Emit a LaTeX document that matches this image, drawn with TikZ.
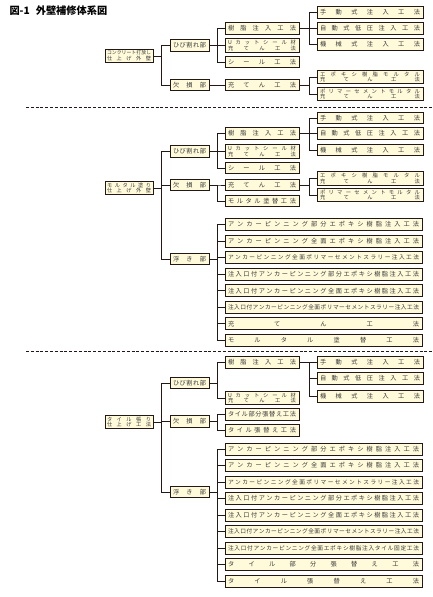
\documentclass[tikz,border=0pt]{standalone}
\usepackage{fontspec}
\newfontfamily\cjk{Noto Sans CJK JP}
\definecolor{boxfill}{HTML}{FFFADA}
\definecolor{ink}{HTML}{231815}
\definecolor{txt}{HTML}{383838}
\def\spreadaux#1{\ifx#1\relax\else#1\hfill\expandafter\spreadaux\fi}
\newcommand\sx[2]{\hbox to #1{\expandafter\spreadaux#2\relax\unskip}}
\tikzset{
  bx/.style={draw=ink, fill=boxfill, line width=1pt, inner xsep=3pt, inner ysep=0pt,
    minimum height=11.5pt, text=txt, font=\cjk\fontsize{6.2}{6.2}\selectfont},
  bxl/.style={bx, minimum height=12pt},
  bxs/.style={bxl, font=\cjk\fontsize{5.7}{5.7}\selectfont},
  bxt/.style={bx, align=center, minimum height=13.5pt, inner ysep=0.8pt,
    font=\cjk\fontsize{5.3}{5.8}\selectfont},
  rootbox/.style={bxt, inner xsep=2pt, font=\cjk\fontsize{5.2}{5.7}\selectfont},
  cn/.style={draw=ink, line width=0.9pt},
  sep/.style={draw=ink, line width=0.8pt, dash pattern=on 3pt off 1.8pt},
}
\begin{document}
\begin{tikzpicture}[x=1pt,y=-1pt]
\useasboundingbox (0,0) rectangle (433,597);
\node[anchor=west, text=black, font=\cjk\bfseries\fontsize{10.2}{10.2}\selectfont] (title) at (6,10.5) {図-1\hspace{6pt}外壁補修体系図};
\draw[sep] (26,107) -- (433,107);
\draw[sep] (26,351) -- (433,351);
% ---------- section 1
\node[rootbox] (R1) at (129,56) {{\fontsize{4.85}{5.7}\selectfont\sx{44pt}{コンクリート打放し}}\\\sx{44pt}{仕上げ外壁}};
\node[bx] (A1) at (189.5,45.5) {\sx{33pt}{ひび割れ部}};
\node[bx] (B1) at (189.5,85) {\sx{33pt}{欠損部}};
\node[bx] (A1a) at (262,28.5) {\sx{68pt}{樹脂注入工法}};
\node[bxt] (A1b) at (262,45.5) {\sx{68pt}{Uカットシール材}\\\sx{68pt}{充てん工法}};
\node[bx] (A1c) at (262,62) {\sx{68pt}{シール工法}};
\node[bx] (A1a1) at (370,12.5) {\sx{100pt}{手動式注入工法}};
\node[bx] (A1a2) at (370,28.5) {\sx{100pt}{自動式低圧注入工法}};
\node[bx] (A1a3) at (370,44.5) {\sx{100pt}{機械式注入工法}};
\node[bx] (B1a) at (262,85) {\sx{68pt}{充てん工法}};
\node[bxt] (B1a1) at (370,77) {\sx{100pt}{エポキシ樹脂モルタル}\\\sx{100pt}{充てん工法}};
\node[bxt] (B1a2) at (370,94) {\sx{100pt}{ポリマーセメントモルタル}\\\sx{100pt}{充てん工法}};
\foreach \c in {A1,B1} \draw[cn] (R1.east) -- ++(8,0) |- (\c.west);
\foreach \c in {A1a,A1b,A1c} \draw[cn] (A1.east) -- ++(8,0) |- (\c.west);
\foreach \c in {A1a1,A1a2,A1a3} \draw[cn] (A1a.east) -- ++(10,0) |- (\c.west);
\draw[cn] (B1.east) -- (B1a.west);
\foreach \c in {B1a1,B1a2} \draw[cn] (B1a.east) -- ++(10,0) |- (\c.west);
% ---------- section 2
\node[rootbox] (R2) at (129,188) {\sx{44pt}{モルタル塗り}\\\sx{44pt}{仕上げ外壁}};
\node[bx] (A2) at (189.5,151.5) {\sx{33pt}{ひび割れ部}};
\node[bx] (B2) at (189.5,185) {\sx{33pt}{欠損部}};
\node[bx] (C2) at (189.5,259) {\sx{33pt}{浮き部}};
\node[bx] (A2a) at (262,133.5) {\sx{68pt}{樹脂注入工法}};
\node[bxt] (A2b) at (262,151.5) {\sx{68pt}{Uカットシール材}\\\sx{68pt}{充てん工法}};
\node[bx] (A2c) at (262,168) {\sx{68pt}{シール工法}};
\node[bx] (A2a1) at (370,118) {\sx{100pt}{手動式注入工法}};
\node[bx] (A2a2) at (370,133.5) {\sx{100pt}{自動式低圧注入工法}};
\node[bx] (A2a3) at (370,150) {\sx{100pt}{機械式注入工法}};
\node[bx] (B2a) at (262,185) {\sx{68pt}{充てん工法}};
\node[bx] (B2b) at (262,201) {\sx{68pt}{モルタル塗替工法}};
\node[bxt] (B2a1) at (370,178.5) {\sx{100pt}{エポキシ樹脂モルタル}\\\sx{100pt}{充てん工法}};
\node[bxt] (B2a2) at (370,195) {\sx{100pt}{ポリマーセメントモルタル}\\\sx{100pt}{充てん工法}};
\foreach \y/\t/\s [count=\i] in {
  224.5/{アンカーピンニング部分エポキシ樹脂注入工法}/bxl,
  241.1/{アンカーピンニング全面エポキシ樹脂注入工法}/bxl,
  257.6/{アンカーピンニング全面ポリマーセメントスラリー注入工法}/bxs,
  274.2/{注入口付アンカーピンニング部分エポキシ樹脂注入工法}/bxl,
  290.8/{注入口付アンカーピンニング全面エポキシ樹脂注入工法}/bxl,
  307.4/{注入口付アンカーピンニング全面ポリマーセメントスラリー注入工法}/bxs,
  323.9/{充てん工法}/bxl,
  340.5/{モルタル塗替工法}/bxl}
  \node[\s] (C2c\i) at (323.5,\y) {\sx{191pt}{\t}};
\foreach \c in {A2,B2,C2} \draw[cn] (R2.east) -- ++(8,0) |- (\c.west);
\foreach \c in {A2a,A2b,A2c} \draw[cn] (A2.east) -- ++(8,0) |- (\c.west);
\foreach \c in {A2a1,A2a2,A2a3} \draw[cn] (A2a.east) -- ++(10,0) |- (\c.west);
\foreach \c in {B2a,B2b} \draw[cn] (B2.east) -- ++(8,0) |- (\c.west);
\foreach \c in {B2a1,B2a2} \draw[cn] (B2a.east) -- ++(10,0) |- (\c.west);
\foreach \i in {1,...,8} \draw[cn] (C2.east) -- ++(8,0) |- (C2c\i.west);
% ---------- section 3
\node[rootbox] (R3) at (129,422) {\sx{44pt}{タイル張り}\\\sx{44pt}{仕上げ工法}};
\node[bx] (A3) at (189.5,383) {\sx{33pt}{ひび割れ部}};
\node[bx] (B3) at (189.5,421.5) {\sx{33pt}{欠損部}};
\node[bx] (C3) at (189.5,492) {\sx{33pt}{浮き部}};
\node[bx] (A3a) at (262,362.5) {\sx{68pt}{樹脂注入工法}};
\node[bxt] (A3b) at (262,398) {\sx{68pt}{Uカットシール材}\\\sx{68pt}{充てん工法}};
\node[bx] (A3a1) at (370,362.5) {\sx{100pt}{手動式注入工法}};
\node[bx] (A3a2) at (370,378.5) {\sx{100pt}{自動式低圧注入工法}};
\node[bx] (A3a3) at (370,396.5) {\sx{100pt}{機械式注入工法}};
\node[bx] (B3a) at (262,414.5) {\sx{68pt}{タイル部分張替え工法}};
\node[bx] (B3b) at (262,430.5) {\sx{68pt}{タイル張替え工法}};
\foreach \y/\t/\s [count=\i] in {
  449/{アンカーピンニング部分エポキシ樹脂注入工法}/bxl,
  465.5/{アンカーピンニング全面エポキシ樹脂注入工法}/bxl,
  482/{アンカーピンニング全面ポリマーセメントスラリー注入工法}/bxs,
  498.5/{注入口付アンカーピンニング部分エポキシ樹脂注入工法}/bxl,
  515/{注入口付アンカーピンニング全面エポキシ樹脂注入工法}/bxl,
  531.5/{注入口付アンカーピンニング全面ポリマーセメントスラリー注入工法}/bxs,
  548/{注入口付アンカーピンニング全面エポキシ樹脂注入タイル固定工法}/bxs,
  564.5/{タイル部分張替え工法}/bxl,
  581/{タイル張替え工法}/bxl}
  \node[\s] (C3c\i) at (323.5,\y) {\sx{191pt}{\t}};
\foreach \c in {A3,B3,C3} \draw[cn] (R3.east) -- ++(8,0) |- (\c.west);
\foreach \c in {A3a,A3b} \draw[cn] (A3.east) -- ++(8,0) |- (\c.west);
\foreach \c in {A3a1,A3a2,A3a3} \draw[cn] (A3a.east) -- ++(10,0) |- (\c.west);
\foreach \c in {B3a,B3b} \draw[cn] (B3.east) -- ++(8,0) |- (\c.west);
\foreach \i in {1,...,9} \draw[cn] (C3.east) -- ++(8,0) |- (C3c\i.west);
\end{tikzpicture}
\end{document}
